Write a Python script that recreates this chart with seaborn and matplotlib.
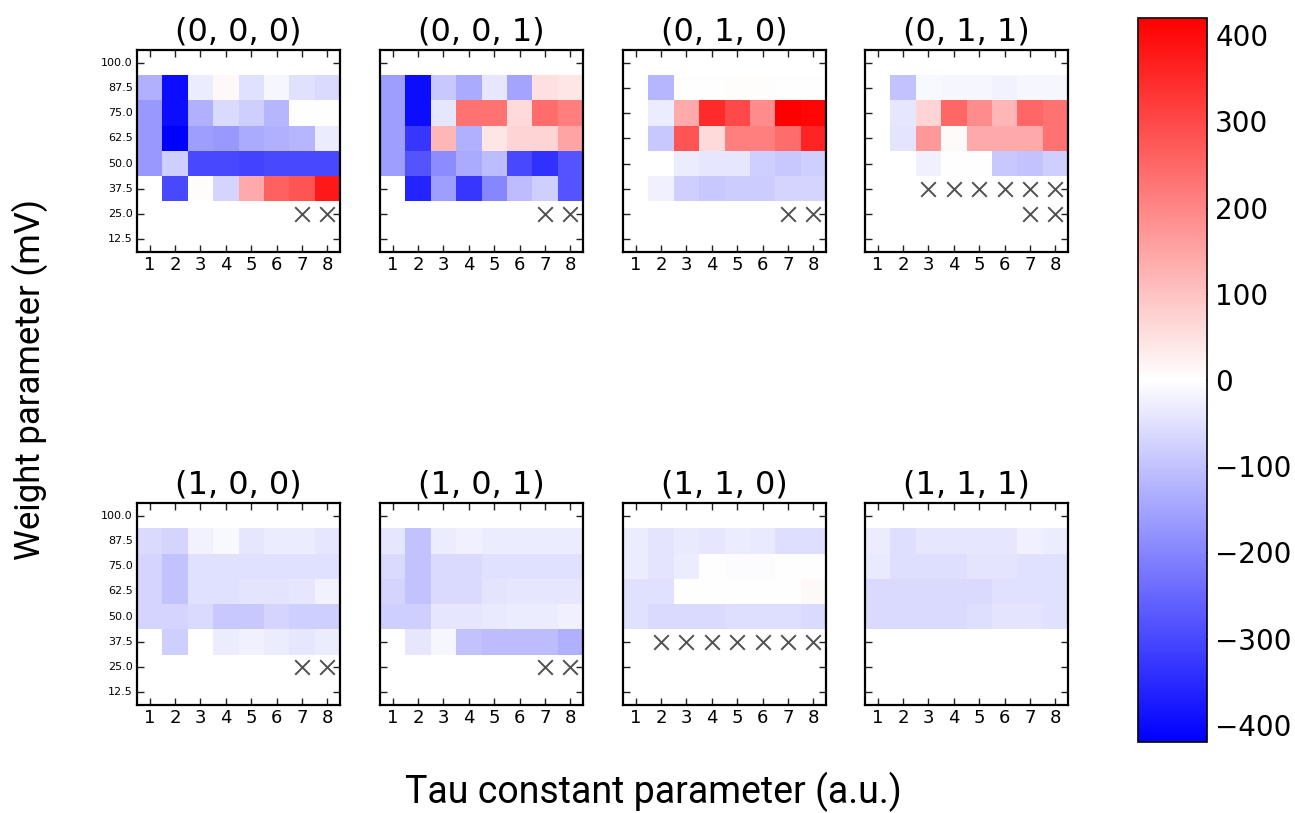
import numpy as np
import pandas as pd
import matplotlib
matplotlib.use("Agg")
import matplotlib.pyplot as plt
import seaborn as sns

N = np.nan
tau_labels = ["1", "2", "3", "4", "5", "6", "7", "8"]
weight_labels = ["100.0", "87.5", "75.0", "62.5", "50.0", "37.5", "25.0", "12.5"]
titles = ["(0, 0, 0)", "(0, 0, 1)", "(0, 1, 0)", "(0, 1, 1)",
          "(1, 0, 0)", "(1, 0, 1)", "(1, 1, 0)", "(1, 1, 1)"]

# rows: weight 100 (top) -> 12.5 (bottom); columns: tau 1..8
p000 = [[N]*8,
        [-130, -400, -30, 10, -50, -15, -50, -60],
        [-170, -400, -130, -60, -80, -120, 0, 0],
        [-170, -420, -160, -170, -140, -130, -120, -30],
        [-170, -80, -300, -300, -310, -300, -300, -300],
        [N, -300, 5, -70, 140, 260, 280, 380],
        [N]*8, [N]*8]
p001 = [[N]*8,
        [-160, -400, -90, -140, -40, -150, 50, 40],
        [-160, -400, -40, 230, 230, 60, 240, 210],
        [-160, -330, 120, -130, 40, 70, 70, 150],
        [-160, -280, -190, -140, -110, -300, -340, -280],
        [N, -360, -160, -330, -200, -110, -80, -280],
        [N]*8, [N]*8]
p010 = [[N]*8,
        [N, -120, -3, 2, 5, 5, 2, 2],
        [N, -30, 140, 350, 300, 190, 420, 410],
        [N, -90, 280, 60, 210, 210, 240, 360],
        [N, N, -30, -40, -40, -80, -90, -80],
        [N, -25, -80, -90, -85, -85, -70, -70],
        [N]*8, [N]*8]
p011 = [[N]*8,
        [N, -100, -10, -15, -15, -20, -15, -15],
        [N, -40, 70, 250, 190, 120, 250, 230],
        [N, -45, 170, 8, 140, 140, 140, 230],
        [N, N, -25, 0, 0, -90, -100, -80],
        [N]*8, [N]*8, [N]*8]
p100 = [[N]*8,
        [-60, -70, -20, -10, -40, -30, -30, -40],
        [-70, -100, -50, -50, -50, -50, -50, -50],
        [-70, -100, -50, -50, -45, -45, -40, -20],
        [-70, -70, -60, -90, -90, -70, -80, -80],
        [N, -80, N, -30, -25, -30, -40, -30],
        [N]*8, [N]*8]
p101 = [[N]*8,
        [-40, -100, -30, -25, -30, -30, -30, -30],
        [-60, -100, -60, -60, -50, -50, -50, -50],
        [-70, -100, -60, -60, -45, -40, -40, -40],
        [-80, -80, -40, -40, -35, -30, -30, -25],
        [N, -40, -15, -100, -110, -110, -110, -130],
        [N]*8, [N]*8]
p110 = [[N]*8,
        [-30, -45, -35, -40, -30, -35, -55, -55],
        [-30, -45, -30, -2, -5, -5, 0, 0],
        [-50, -50, 0, 0, 0, 0, 0, 10],
        [-50, -60, -60, -60, -55, -55, -55, -60],
        [N]*8, [N]*8, [N]*8]
p111 = [[N]*8,
        [-30, -55, -40, -40, -40, -40, -25, -30],
        [-35, -55, -55, -55, -45, -45, -50, -50],
        [-60, -60, -60, -60, -60, -50, -50, -50],
        [-60, -60, -60, -60, -55, -45, -45, -50],
        [N]*8, [N]*8, [N]*8]
panels = [p000, p001, p010, p011, p100, p101, p110, p111]

# crossed (invalid) cells per panel: (row index, column index)
x000 = [(6, 6), (6, 7)]
x001 = [(6, 6), (6, 7)]
x010 = [(6, 6), (6, 7)]
x011 = [(5, 2), (5, 3), (5, 4), (5, 5), (5, 6), (5, 7), (6, 6), (6, 7)]
x100 = [(6, 6), (6, 7)]
x101 = [(6, 6), (6, 7)]
x110 = [(5, 1), (5, 2), (5, 3), (5, 4), (5, 5), (5, 6), (5, 7)]
x111 = []
crosses = [x000, x001, x010, x011, x100, x101, x110, x111]

VMAX = 420

sns.set_style("white")
plt.rcParams["font.family"] = ["DejaVu Sans"]
plt.rcParams["axes.unicode_minus"] = True
plt.rcParams["text.color"] = "black"
plt.rcParams["xtick.color"] = "black"
plt.rcParams["ytick.color"] = "black"
plt.rcParams["xtick.labelcolor"] = "black"
plt.rcParams["ytick.labelcolor"] = "black"

W, H = 1295, 813
fig = plt.figure(figsize=(W / 100, H / 100), dpi=100)

lefts = [137, 380, 623, 865]
tops = [50, 503]
pw, ph = 203, 202

mappable = None
for i, (vals, title, xs) in enumerate(zip(panels, titles, crosses)):
    r, c = divmod(i, 4)
    ax = fig.add_axes([lefts[c] / W, 1 - (tops[r] + ph) / H, pw / W, ph / H])
    df = pd.DataFrame(vals, index=weight_labels, columns=tau_labels)
    sns.heatmap(df, ax=ax, cmap="bwr", vmin=-VMAX, vmax=VMAX, cbar=False,
                square=False, linewidths=0)
    if mappable is None:
        mappable = ax.collections[0]
    for (ri, ci) in xs:
        ax.scatter(ci + 0.5, ri + 0.5, marker="x", s=110, color="#505050",
                   linewidths=1.4, zorder=5)
    for s in ax.spines.values():
        s.set_visible(True)
        s.set_color("black")
        s.set_linewidth(1.6)
    ax.set_xlim(0, 8)
    ax.set_ylim(8, 0)
    ax.tick_params(direction="in", top=True, right=True, length=5, width=1,
                   color="#222222", bottom=True, left=True)
    ax.set_xticks(np.arange(8) + 0.5)
    ax.set_xticklabels(tau_labels, rotation=0, fontsize=13, color="black")
    ax.set_yticks(np.arange(8) + 0.5)
    if c == 0:
        ax.set_yticklabels(weight_labels, rotation=0, fontsize=8, color="black")
    else:
        ax.set_yticklabels([])
    ax.tick_params(axis="x", pad=3)
    ax.tick_params(axis="y", pad=3)
    ax.set_xlabel("")
    ax.set_ylabel("")
    ax.set_title(title, fontsize=23, pad=7, color="black")

cax = fig.add_axes([1138 / W, 1 - 742 / H, 69 / W, 724 / H])
cb = fig.colorbar(mappable, cax=cax)
cb.set_ticks([-400, -300, -200, -100, 0, 100, 200, 300, 400])
cb.ax.tick_params(labelsize=20, direction="in", length=7, width=1,
                  colors="black", pad=6)
cb.outline.set_linewidth(1.2)
cb.outline.set_edgecolor("black")

fig.text(30 / W, 1 - 380 / H, "Weight parameter (mV)", rotation=90,
         ha="center", va="center", fontsize=25, color="black",
         family=["Roboto", "DejaVu Sans"])
fig.text(653 / W, 1 - 792 / H, "Tau constant parameter (a.u.)",
         ha="center", va="center", fontsize=27, color="black",
         family=["Roboto", "DejaVu Sans"])

fig.savefig("out.png", dpi=100, facecolor="white")
